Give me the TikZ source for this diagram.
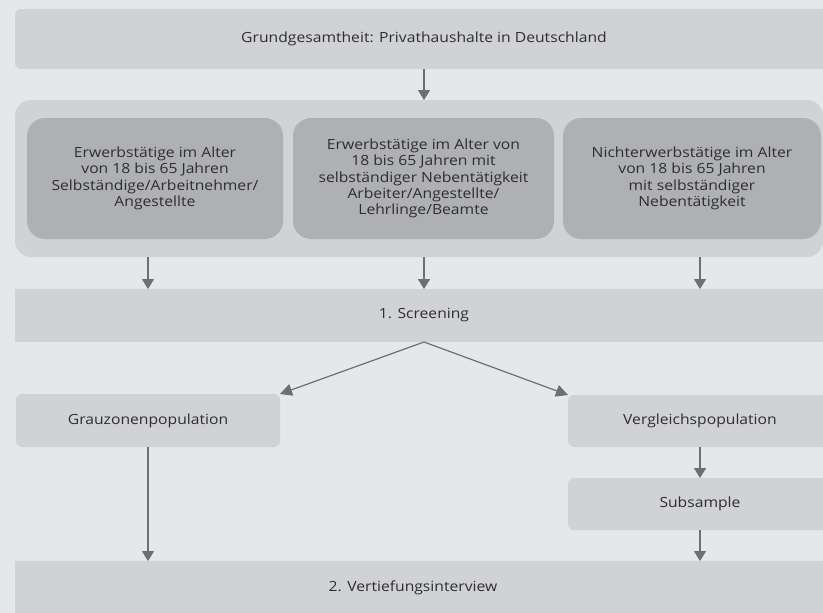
\documentclass[tikz,border=0pt]{standalone}
\usepackage{fontspec}
\setmainfont{Open Sans}[FakeStretch=1.12]
\usetikzlibrary{arrows.meta}
\definecolor{bgc}{HTML}{E6E7E9}
\definecolor{boxc}{HTML}{D1D2D4}
\definecolor{innc}{HTML}{AFB0B2}
\definecolor{arrc}{HTML}{6E6F71}
\definecolor{txtc}{HTML}{2E2E30}
\begin{document}
\begin{tikzpicture}[x=1pt,y=-1pt,
  every node/.style={font=\fontsize{14}{16.3}\selectfont, text=txtc, inner sep=0pt, outer sep=0pt},
  bar/.style={fill=boxc, draw=none, rectangle},
  rbox/.style={fill=boxc, draw=none, rectangle, rounded corners=6pt},
  ibox/.style={fill=innc, draw=none, rectangle, rounded corners=18pt, align=center},
  arr/.style={draw=arrc, line width=1.6pt, -{Triangle[width=12pt,length=10pt]}},
  darr/.style={draw=arrc, line width=1.2pt, -{Triangle[width=12pt,length=12pt]}}
]
\useasboundingbox (0,0) rectangle (823,613);
\fill[bgc] (0,0) rectangle (823,613);
\begin{scope}
\clip (0,0) rectangle (823,613);
% top box
\node[rbox, minimum width=818pt, minimum height=60pt] (top) at (424,39) {Grundgesamtheit: Privathaushalte in Deutschland};
% container
\node[fill=boxc, rectangle, rounded corners=16pt, minimum width=808pt, minimum height=157pt] (cont) at (419,178.5) {};
\node[ibox, minimum width=256pt, minimum height=121pt] (in1) at (155,178.5) {Erwerbstätige im Alter\\von 18 bis 65 Jahren\\Selbständige/Arbeitnehmer/\\Angestellte};
\node[ibox, minimum width=261pt, minimum height=121pt] (in2) at (423.5,178.5) {Erwerbstätige im Alter von\\18 bis 65 Jahren mit\\selbständiger Nebentätigkeit\\Arbeiter/Angestellte/\\Lehrlinge/Beamte};
\node[ibox, minimum width=258pt, minimum height=121pt] (in3) at (692,178.5) {Nichterwerbstätige im Alter\\von 18 bis 65 Jahren\\mit selbständiger\\Nebentätigkeit};
% screening
\node[bar, minimum width=818pt, minimum height=53pt] (scr) at (424,315.5) {1. Screening};
% populations
\node[rbox, minimum width=264pt, minimum height=53pt] (grau) at (148,420.5) {Grauzonenpopulation};
\node[rbox, minimum width=264pt, minimum height=52pt] (vgl) at (700,421) {Vergleichspopulation};
\node[rbox, minimum width=264pt, minimum height=52pt] (sub) at (700,504) {Subsample};
% bottom bar
\node[bar, minimum width=818pt, minimum height=60pt] (vert) at (424,591) {};
\node (verttext) at (413,588) {2. Vertiefungsinterview};
\end{scope}
% connectors
\draw[arr] (top.south) -- (cont.north -| top.south);
\draw[arr] (grau.center |- cont.south) -- (grau.center |- scr.north);
\draw[arr] (scr.center |- cont.south) -- (scr.north);
\draw[arr] (vgl.center |- cont.south) -- (vgl.center |- scr.north);
\draw[darr] (scr.south) -- (grau.north east);
\draw[darr] (scr.south) -- (vgl.north west);
\draw[arr] (vgl.south) -- (sub.north);
\draw[arr] (sub.south) -- (sub.south |- vert.north);
\draw[arr] (grau.south) -- (grau.south |- vert.north);
\end{tikzpicture}
\end{document}
